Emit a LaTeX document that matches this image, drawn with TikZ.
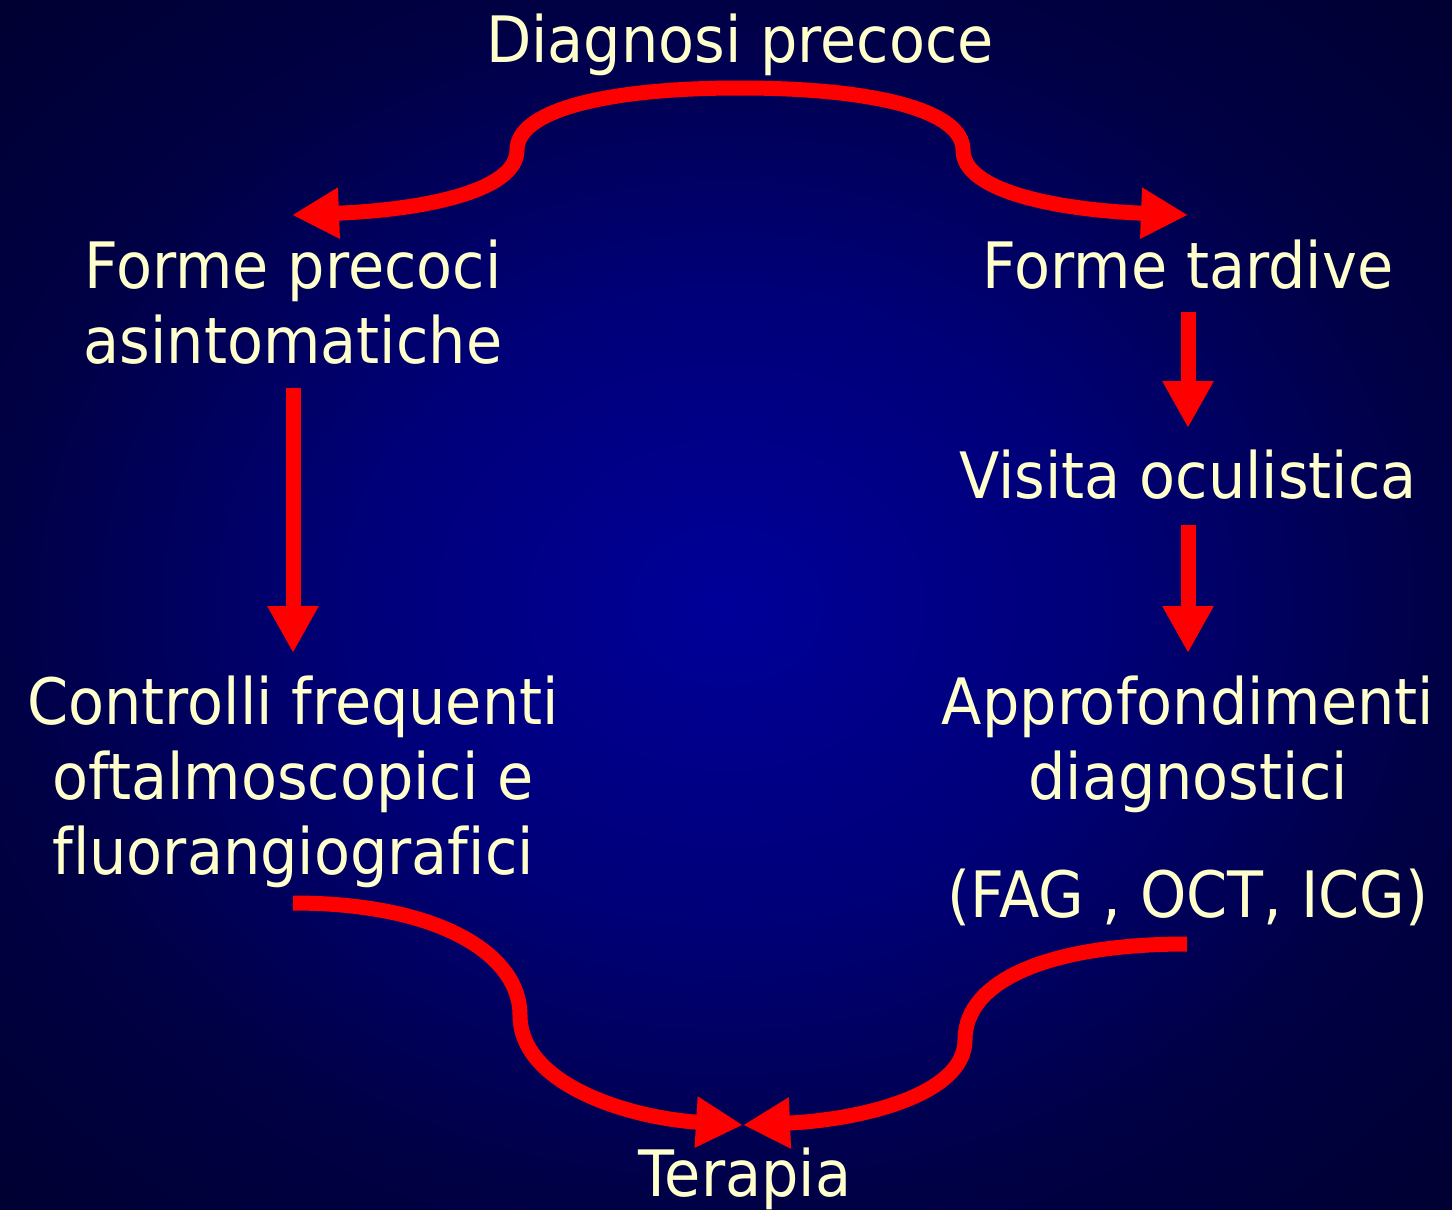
\documentclass[tikz,border=0pt]{standalone}
\usepackage{fontspec}
\setmainfont{DejaVu Sans}[FakeStretch=0.92,Ligatures=NoCommon]
\usetikzlibrary{arrows.meta}
\definecolor{txt}{RGB}{255,255,204}
\definecolor{arrred}{RGB}{255,0,0}
\pgfdeclareradialshading{bgshade}{\pgfpoint{0bp}{0bp}}{rgb(0bp)=(0,0,0.6);rgb(13bp)=(0,0,0.47);rgb(25bp)=(0,0,0.27);rgb(36bp)=(0,0,0.19);rgb(50bp)=(0,0,0.19)}
\begin{document}
\begin{tikzpicture}[x=1pt,y=-1pt,
  lbl/.style={text=txt,font=\fontsize{64}{75}\selectfont,inner sep=0pt,anchor=base},
  arr/.style={draw=arrred,line width=15pt,-{Triangle[length=47pt,width=48pt]}}]
\shade[shading=bgshade] (0,0) rectangle (1452,1210);
\useasboundingbox (0,0) rectangle (1452,1210);
% texts
\node[lbl] (dp) at (740,62) {Diagnosi precoce};
\node[lbl] (fp) at (293,288) {\begin{tabular}[t]{@{}c@{}}Forme precoci\\asintomatiche\end{tabular}};
\node[lbl] (ft) at (1188,288) {Forme tardive};
\node[lbl] (vo) at (1188,498) {Visita oculistica};
\node[lbl] (cf) at (293,724) {\begin{tabular}[t]{@{}c@{}}Controlli frequenti\\oftalmoscopici e\\fluorangiografici\end{tabular}};
\node[lbl] (ad) at (1188,724) {\begin{tabular}[t]{@{}c@{}}Approfondimenti\\diagnostici\\[43pt](FAG , OCT, ICG)\end{tabular}};
\node[lbl] (te) at (745,1196) {Terapia};
% connector ends
\coordinate (dpS) at (740,88);
\coordinate (fpN) at (292,215);
\coordinate (ftN) at (1188,215);
\coordinate (fpS) at (293,388);
\coordinate (cfN) at (293,653);
\coordinate (ftS) at (1188,312);
\coordinate (voN) at (1188,428);
\coordinate (voS) at (1188,525);
\coordinate (adN) at (1188,653);
\coordinate (cfS) at (293,903);
\coordinate (adS) at (1187,944);
\coordinate (teN) at (743,1125);
% connectors
\draw[arr] (dpS) .. controls (600,88) and (517,112) .. (517,150) .. controls (517,192) and (420,210) .. (fpN);
\draw[arr] (dpS) .. controls (880,88) and (963,112) .. (963,150) .. controls (963,192) and (1060,210) .. (ftN);
\draw[arr] (fpS) -- (cfN);
\draw[arr] (ftS) -- (voN);
\draw[arr] (voS) -- (adN);
\draw[arr] (cfS) .. controls (440,903) and (520,955) .. (520,1015) .. controls (520,1085) and (630,1118) .. (teN);
\draw[arr] (adS) .. controls (1050,944) and (965,980) .. (965,1040) .. controls (965,1095) and (860,1120) .. (teN);
\end{tikzpicture}
\end{document}
